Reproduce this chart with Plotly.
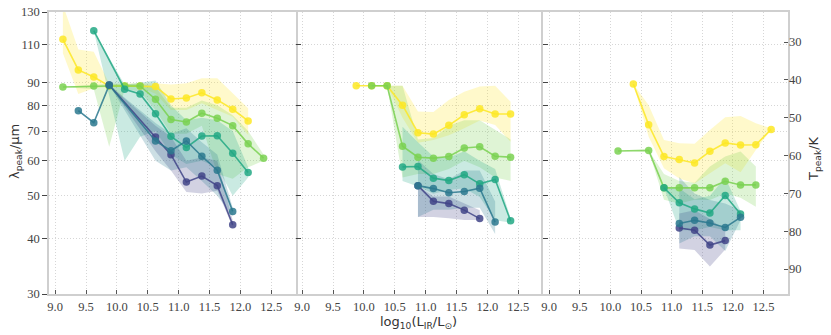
import math
import plotly.graph_objects as go

# ---------------- data ----------------
tick_x = [9.0, 9.5, 10.0, 10.5, 11.0, 11.5, 12.0, 12.5]
tick_lam = [30, 40, 50, 60, 70, 80, 90, 110, 130]
tick_T = [30, 40, 50, 60, 70, 80, 90]
series_names = ["s1", "s2", "s3", "s4", "s5"]
colors = ["#414487", "#2a788e", "#22a884", "#7ad151", "#fde725"]

# Panel 1
p1_s1_x = [9.875, 10.625, 10.875, 11.125, 11.375, 11.625, 11.875]
p1_s1_y = [88.9, 67.9, 61.9, 53.7, 55.4, 52.7, 43.0]
p1_s1_hi = [88.9, 72.0, 68.0, 60.0, 61.0, 60.0, 44.0]
p1_s1_lo = [88.9, 63.0, 57.0, 51.0, 50.6, 51.3, 42.5]

p1_s2_x = [9.375, 9.625, 9.875, 10.625, 10.875, 11.125, 11.375, 11.625, 11.875]
p1_s2_y = [77.8, 73.1, 88.9, 66.5, 63.2, 66.5, 61.4, 57.1, 46.1]
p1_s2_hi = [77.8, 73.1, 88.9, 73.0, 69.0, 71.0, 66.0, 62.0, 47.0]
p1_s2_lo = [77.8, 73.1, 88.9, 60.0, 57.0, 58.0, 54.0, 50.0, 45.0]

p1_s3_x = [9.625, 10.125, 10.375, 10.625, 10.875, 11.125, 11.375, 11.625, 11.875, 12.125]
p1_s3_y = [118.0, 87.0, 84.9, 76.6, 68.1, 64.3, 68.2, 68.3, 62.4, 56.4]
p1_s3_hi = [118.0, 89.0, 90.0, 91.0, 80.0, 74.0, 75.0, 74.0, 70.0, 58.0]
p1_s3_lo = [118.0, 60.0, 68.0, 70.0, 62.0, 59.0, 60.0, 58.0, 50.0, 55.0]

p1_s4_x = [9.125, 9.625, 9.875, 10.125, 10.375, 10.625, 10.875, 11.125, 11.375, 11.625, 11.875, 12.125, 12.375]
p1_s4_y = [88.0, 88.5, 88.5, 88.5, 88.5, 82.6, 74.3, 73.4, 76.8, 74.8, 72.0, 65.5, 60.8]
p1_s4_hi = [88.0, 89.0, 89.5, 89.5, 89.5, 88.0, 79.0, 79.0, 82.0, 80.0, 76.0, 70.0, 62.0]
p1_s4_lo = [88.0, 87.0, 64.5, 87.0, 86.0, 78.0, 69.0, 69.0, 72.0, 56.0, 54.6, 58.0, 60.0]

p1_s5_x = [9.125, 9.375, 9.625, 9.875, 10.125, 10.375, 10.625, 10.875, 11.125, 11.375, 11.625, 11.875, 12.125]
p1_s5_y = [112.8, 96.2, 92.7, 88.5, 88.5, 88.5, 88.2, 82.7, 83.1, 85.4, 82.3, 78.4, 73.8]
p1_s5_hi = [135.0, 107.0, 105.7, 89.5, 89.5, 89.5, 89.7, 89.2, 89.7, 92.1, 92.1, 85.2, 78.8]
p1_s5_lo = [104.9, 84.9, 87.4, 88.0, 88.0, 88.0, 85.0, 78.1, 78.1, 80.9, 78.1, 75.4, 68.6]

# Panel 2
p2_s1_x = [10.875, 11.125, 11.375, 11.625, 11.875]
p2_s1_y = [52.7, 48.6, 48.0, 46.4, 44.4]
p2_s1_hi = [52.7, 49.8, 49.8, 48.1, 46.4]
p2_s1_lo = [44.8, 44.8, 44.5, 44.1, 44.1]

p2_s2_x = [10.875, 11.125, 11.375, 11.625, 11.875, 12.125]
p2_s2_y = [52.7, 51.9, 50.8, 51.1, 52.0, 43.6]
p2_s2_hi = [60.2, 56.0, 54.5, 57.0, 57.0, 48.5]
p2_s2_lo = [44.8, 46.5, 46.5, 47.0, 47.0, 41.0]

p2_s3_x = [10.625, 10.875, 11.125, 11.375, 11.625, 11.875, 12.125, 12.375]
p2_s3_y = [58.1, 58.2, 54.8, 54.1, 55.8, 53.2, 54.4, 43.9]
p2_s3_hi = [71.6, 66.0, 61.3, 61.0, 63.0, 60.0, 57.5, 44.5]
p2_s3_lo = [54.0, 52.5, 50.5, 51.5, 52.0, 49.7, 44.0, 43.5]

p2_s4_x = [10.125, 10.375, 10.625, 10.875, 11.125, 11.375, 11.625, 11.875, 12.125, 12.375]
p2_s4_y = [88.6, 88.6, 64.7, 61.1, 60.8, 61.3, 64.1, 64.5, 61.4, 61.1]
p2_s4_hi = [88.6, 88.6, 88.6, 67.0, 67.5, 72.0, 74.0, 74.0, 70.4, 67.0]
p2_s4_lo = [88.6, 88.6, 55.0, 56.0, 56.0, 57.5, 60.0, 58.0, 55.0, 54.0]

p2_s5_x = [9.875, 10.125, 10.375, 10.625, 10.875, 11.125, 11.375, 11.625, 11.875, 12.125, 12.375]
p2_s5_y = [88.6, 88.6, 88.6, 80.1, 69.4, 68.9, 72.1, 76.2, 78.6, 76.5, 76.5]
p2_s5_hi = [88.6, 88.6, 88.6, 88.6, 77.5, 77.3, 82.3, 85.9, 88.2, 88.6, 81.5]
p2_s5_lo = [88.6, 88.6, 88.6, 75.0, 65.9, 66.8, 68.5, 71.0, 73.9, 72.2, 66.2]

# Panel 3
p3_s1_x = [11.125, 11.375, 11.625, 11.875]
p3_s1_y = [42.3, 41.8, 38.7, 39.6]
p3_s1_hi = [45.6, 46.4, 44.3, 41.8]
p3_s1_lo = [38.0, 37.7, 34.6, 37.8]

p3_s2_x = [11.125, 11.375, 11.625, 11.875, 12.125]
p3_s2_y = [43.3, 44.0, 43.4, 42.4, 44.7]
p3_s2_hi = [55.1, 50.6, 48.9, 48.0, 46.4]
p3_s2_lo = [39.0, 40.5, 40.5, 37.5, 44.0]

p3_s3_x = [10.875, 11.125, 11.375, 11.625, 11.875, 12.125]
p3_s3_y = [52.1, 48.2, 46.7, 45.7, 50.1, 45.5]
p3_s3_hi = [52.1, 52.0, 49.1, 50.0, 55.0, 46.2]
p3_s3_lo = [52.1, 41.8, 41.8, 42.5, 41.8, 41.8]

p3_s4_x = [10.125, 10.625, 10.875, 11.125, 11.375, 11.625, 11.875, 12.125, 12.375]
p3_s4_y = [63.1, 63.3, 52.1, 52.1, 52.1, 52.1, 53.9, 52.9, 52.9]
p3_s4_hi = [63.1, 63.3, 56.0, 54.0, 53.5, 58.2, 61.3, 62.9, 58.2]
p3_s4_lo = [63.1, 63.3, 49.0, 48.0, 49.0, 48.9, 50.6, 49.5, 47.2]

p3_s5_x = [10.375, 10.625, 10.875, 11.125, 11.375, 11.625, 11.875, 12.125, 12.375, 12.625]
p3_s5_y = [89.4, 72.3, 61.3, 60.4, 59.3, 63.0, 65.8, 65.1, 65.2, 70.6]
p3_s5_hi = [89.4, 80.0, 66.8, 65.7, 65.5, 70.4, 75.2, 75.7, 72.9, 71.0]
p3_s5_lo = [89.4, 68.0, 57.7, 54.7, 53.3, 56.2, 59.2, 56.5, 63.4, 70.6]

panels = [
    [(p1_s1_x, p1_s1_y, p1_s1_lo, p1_s1_hi), (p1_s2_x, p1_s2_y, p1_s2_lo, p1_s2_hi),
     (p1_s3_x, p1_s3_y, p1_s3_lo, p1_s3_hi), (p1_s4_x, p1_s4_y, p1_s4_lo, p1_s4_hi),
     (p1_s5_x, p1_s5_y, p1_s5_lo, p1_s5_hi)],
    [(p2_s1_x, p2_s1_y, p2_s1_lo, p2_s1_hi), (p2_s2_x, p2_s2_y, p2_s2_lo, p2_s2_hi),
     (p2_s3_x, p2_s3_y, p2_s3_lo, p2_s3_hi), (p2_s4_x, p2_s4_y, p2_s4_lo, p2_s4_hi),
     (p2_s5_x, p2_s5_y, p2_s5_lo, p2_s5_hi)],
    [(p3_s1_x, p3_s1_y, p3_s1_lo, p3_s1_hi), (p3_s2_x, p3_s2_y, p3_s2_lo, p3_s2_hi),
     (p3_s3_x, p3_s3_y, p3_s3_lo, p3_s3_hi), (p3_s4_x, p3_s4_y, p3_s4_lo, p3_s4_hi),
     (p3_s5_x, p3_s5_y, p3_s5_lo, p3_s5_hi)],
]


def rgba(hexc, a):
    h = hexc.lstrip("#")
    r, g, b = int(h[0:2], 16), int(h[2:4], 16), int(h[4:6], 16)
    return f"rgba({r},{g},{b},{a})"


fig = go.Figure()
draw_order = [4, 3, 2, 0, 1]
for pi, pdata in enumerate(panels):
    xa = "x" if pi == 0 else f"x{pi+1}"
    ya = "y" if pi == 0 else f"y{pi+1}"
    for si in draw_order:
        x, y, lo, hi = pdata[si]
        fig.add_trace(go.Scatter(
            x=list(x) + list(x)[::-1], y=list(hi) + list(lo)[::-1],
            fill="toself", fillcolor=rgba(colors[si], 0.24),
            line=dict(width=0), mode="lines", hoverinfo="skip",
            showlegend=False, xaxis=xa, yaxis=ya))
    for si in draw_order:
        x, y, lo, hi = pdata[si]
        fig.add_trace(go.Scatter(
            x=x, y=y, mode="lines+markers",
            line=dict(color=rgba(colors[si], 0.85), width=1.6),
            marker=dict(color=rgba(colors[si], 0.85), size=7.5),
            name=series_names[si], showlegend=False, xaxis=xa, yaxis=ya))

TICKFONT = dict(family="Liberation Serif, DejaVu Serif, serif", size=12.5, color="#444444")
GRID = dict(showgrid=True, gridcolor="#d6d6d6", griddash="1px,2px", gridwidth=1)
LCOL = "#cfcfcf"
LW = 1.5

W = 739.0
doms = [[0, 247 / W], [247 / W, 494 / W], [494 / W, 1]]
for i in range(3):
    kx = "xaxis" if i == 0 else f"xaxis{i+1}"
    ky = "yaxis" if i == 0 else f"yaxis{i+1}"
    fig.layout[kx] = dict(
        domain=doms[i], range=[8.9, 12.9], anchor="y" if i == 0 else f"y{i+1}",
        tickvals=tick_x, ticktext=[f"{v:.1f}" for v in tick_x],
        ticks="inside", ticklen=4, tickcolor="#555555", tickfont=TICKFONT,
        showline=True, linecolor=LCOL, linewidth=LW, mirror=True,
        zeroline=False, automargin=False, **GRID)
    fig.layout[ky] = dict(
        domain=[0, 1], type="log", range=[math.log10(30), math.log10(130)],
        anchor="x" if i == 0 else f"x{i+1}",
        tickvals=tick_lam, ticktext=[str(v) for v in tick_lam],
        ticks="outside" if i == 0 else "inside", ticklen=5, tickcolor="#444444",
        showticklabels=(i == 0), tickfont=TICKFONT,
        showline=(i != 1), linecolor=LCOL, linewidth=LW, mirror=True,
        zeroline=False, automargin=False, **GRID)

fig.layout["yaxis4"] = dict(
    overlaying="y3", side="right", anchor="x3", range=[96.6, 22.07],
    tickvals=tick_T, ticktext=[str(v) for v in tick_T],
    ticks="inside", ticklen=4, tickcolor="#555555", tickfont=TICKFONT,
    showgrid=False, zeroline=False, showline=False, automargin=False)
fig.add_trace(go.Scatter(x=[None], y=[None], xaxis="x3", yaxis="y4", showlegend=False))

TITLEFONT = dict(family="DejaVu Sans, sans-serif", size=13, color="#333333")
fig.add_annotation(text="λ<sub>peak</sub>/μm", xref="paper", yref="paper",
                   x=(15 - 49) / 739, y=(294 - 152) / 282, textangle=-90,
                   showarrow=False, font=TITLEFONT, xanchor="center", yanchor="middle")
fig.add_annotation(text="T<sub>peak</sub>/K", xref="paper", yref="paper",
                   x=(814 - 49) / 739, y=(294 - 158) / 282, textangle=-90,
                   showarrow=False, font=TITLEFONT, xanchor="center", yanchor="middle")
fig.add_annotation(text="log<sub>10</sub>(L<sub>IR</sub>/L<sub>⊙</sub>)", xref="paper", yref="paper",
                   x=0.5, y=(294 - 322.5) / 282,
                   showarrow=False, font=TITLEFONT, xanchor="center", yanchor="middle")

fig.update_layout(
    width=831, height=335, margin=dict(l=49, r=43, t=12, b=41, autoexpand=False),
    plot_bgcolor="white", paper_bgcolor="white", showlegend=False)

fig.write_html("out.html", config={"displayModeBar": False},
               post_script="document.body.style.margin='0px';document.body.style.overflow='hidden';")
